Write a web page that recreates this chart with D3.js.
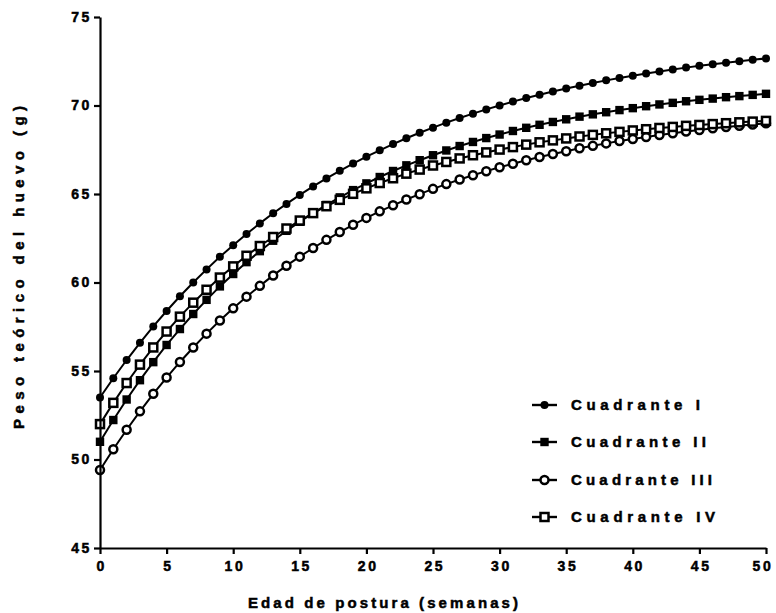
<!DOCTYPE html>
<html>
<head>
<meta charset="utf-8">
<script src="https://cdn.jsdelivr.net/npm/d3@7"></script>
<style>
  html, body { margin: 0; padding: 0; background: #fff; }
  text { font-family: "Liberation Sans", Arial, sans-serif; font-weight: bold; fill: #000; stroke: #000; stroke-width: 0.5px; }
</style>
</head>
<body>
<svg id="chart" width="776" height="613"></svg>
<script>
// ---- data ----
const weeks = d3.range(0, 51);
const seriesNames = ["Cuadrante I", "Cuadrante II", "Cuadrante III", "Cuadrante IV"];
const cuadranteI = [53.50,54.59,55.62,56.59,57.52,58.39,59.22,60.00,60.74,61.45,62.11,62.74,63.34,63.91,64.44,64.95,65.43,65.88,66.31,66.72,67.11,67.47,67.82,68.15,68.46,68.75,69.03,69.29,69.54,69.78,70.00,70.22,70.42,70.61,70.79,70.96,71.12,71.27,71.42,71.55,71.68,71.81,71.92,72.03,72.14,72.24,72.33,72.42,72.50,72.58,72.66];
const cuadranteII = [51.00,52.23,53.39,54.48,55.50,56.47,57.37,58.22,59.02,59.78,60.48,61.15,61.77,62.36,62.92,63.43,63.92,64.38,64.81,65.22,65.60,65.96,66.30,66.62,66.91,67.19,67.46,67.71,67.94,68.16,68.36,68.56,68.74,68.91,69.07,69.22,69.37,69.50,69.62,69.74,69.85,69.96,70.06,70.15,70.24,70.32,70.39,70.47,70.53,70.60,70.66];
const cuadranteIII = [49.41,50.58,51.68,52.72,53.71,54.63,55.51,56.33,57.11,57.85,58.54,59.20,59.81,60.40,60.95,61.46,61.95,62.41,62.85,63.26,63.65,64.02,64.36,64.69,64.99,65.29,65.56,65.82,66.06,66.29,66.51,66.71,66.91,67.09,67.26,67.42,67.58,67.72,67.86,67.99,68.11,68.22,68.33,68.43,68.53,68.62,68.71,68.79,68.86,68.93,69.00];
const cuadranteIV = [52.00,53.20,54.32,55.36,56.33,57.23,58.07,58.86,59.59,60.28,60.91,61.51,62.06,62.57,63.05,63.50,63.92,64.31,64.67,65.01,65.32,65.62,65.89,66.15,66.38,66.61,66.81,67.01,67.19,67.35,67.51,67.65,67.79,67.92,68.03,68.14,68.25,68.34,68.43,68.51,68.59,68.66,68.73,68.79,68.85,68.90,68.95,69.00,69.05,69.09,69.13];
const xTicks = [0,5,10,15,20,25,30,35,40,45,50];
const yTicks = [45,50,55,60,65,70,75];
const xTitle = "Edad de postura (semanas)";
const yTitle = "Peso teórico del huevo (g)";

// ---- layout ----
const svg = d3.select("#chart");
const mLeft = 100, mRight = 766, mTop = 17, mBottom = 548;
const x = d3.scaleLinear().domain([0, 50]).range([mLeft, mRight]);
const y = d3.scaleLinear().domain([45, 75]).range([mBottom, mTop]);

const allSeries = [cuadranteI, cuadranteII, cuadranteIII, cuadranteIV];
const markers = ["filledCircle", "filledSquare", "openCircle", "openSquare"];

function drawMarker(g, type, cx, cy) {
  if (type === "filledCircle") {
    g.append("circle").attr("cx", cx).attr("cy", cy).attr("r", 4).attr("fill", "#000");
  } else if (type === "filledSquare") {
    g.append("rect").attr("x", cx - 4.2).attr("y", cy - 4.2).attr("width", 8.4).attr("height", 8.4).attr("fill", "#000");
  } else if (type === "openCircle") {
    g.append("circle").attr("cx", cx).attr("cy", cy).attr("r", 4).attr("fill", "#fff").attr("stroke", "#000").attr("stroke-width", 2.5);
  } else {
    g.append("rect").attr("x", cx - 4).attr("y", cy - 4).attr("width", 8).attr("height", 8).attr("fill", "#fff").attr("stroke", "#000").attr("stroke-width", 2.5);
  }
}

const line = d3.line().x((d, i) => x(weeks[i])).y(d => y(d));

// lines and markers
allSeries.forEach((vals, si) => {
  const g = svg.append("g");
  g.append("path").attr("d", line(vals)).attr("fill", "none").attr("stroke", "#000").attr("stroke-width", 2);
  vals.forEach((v, i) => drawMarker(g, markers[si], x(weeks[i]), y(v)));
});

// axes
const xAxis = d3.axisBottom(x).tickValues(xTicks).tickSize(6).tickSizeOuter(0).tickPadding(7);
const yAxis = d3.axisLeft(y).tickValues(yTicks).tickSize(6).tickSizeOuter(0).tickPadding(4);

const gx = svg.append("g").attr("transform", `translate(0,${mBottom})`).call(xAxis);
const gy = svg.append("g").attr("transform", `translate(${mLeft},0)`).call(yAxis);
[gx, gy].forEach(g => {
  g.select(".domain").attr("stroke", "#000").attr("stroke-width", 2.2);
  g.selectAll(".tick line").attr("stroke", "#000").attr("stroke-width", 2.2);
  g.selectAll(".tick text").attr("font-family", "Liberation Sans, Arial, sans-serif")
    .attr("font-weight", "bold").attr("font-size", 14).attr("fill", "#000")
    .style("letter-spacing", "2.6px");
});
gy.selectAll(".tick text").attr("x", -8);
gx.selectAll(".tick text").attr("dy", "0.71em").attr("text-anchor", "start")
  .attr("x", function() { return -this.getComputedTextLength() / 2 + 1.3; });
gx.selectAll(".tick text").filter(d => d === 50).attr("x", -14);

// axis titles
svg.append("text").attr("x", 248).attr("y", 608)
  .attr("font-size", 15).attr("textLength", 270).attr("lengthAdjust", "spacing")
  .text(xTitle);
svg.append("text").attr("transform", `translate(24,429) rotate(-90)`)
  .attr("font-size", 15).attr("textLength", 323).attr("lengthAdjust", "spacing")
  .text(yTitle);

// legend
const legY = [405, 442, 480, 517];
const legLen = [129, 135, 141, 144];
seriesNames.forEach((name, i) => {
  const g = svg.append("g");
  g.append("line").attr("x1", 532).attr("x2", 557).attr("y1", legY[i]).attr("y2", legY[i])
    .attr("stroke", "#000").attr("stroke-width", 2.4);
  drawMarker(g, markers[i], 544.5, legY[i]);
  g.append("text").attr("x", 571).attr("y", legY[i]).attr("dy", "0.36em")
    .attr("font-size", 15).attr("textLength", legLen[i]).attr("lengthAdjust", "spacing").text(name);
});
</script>
</body>
</html>
